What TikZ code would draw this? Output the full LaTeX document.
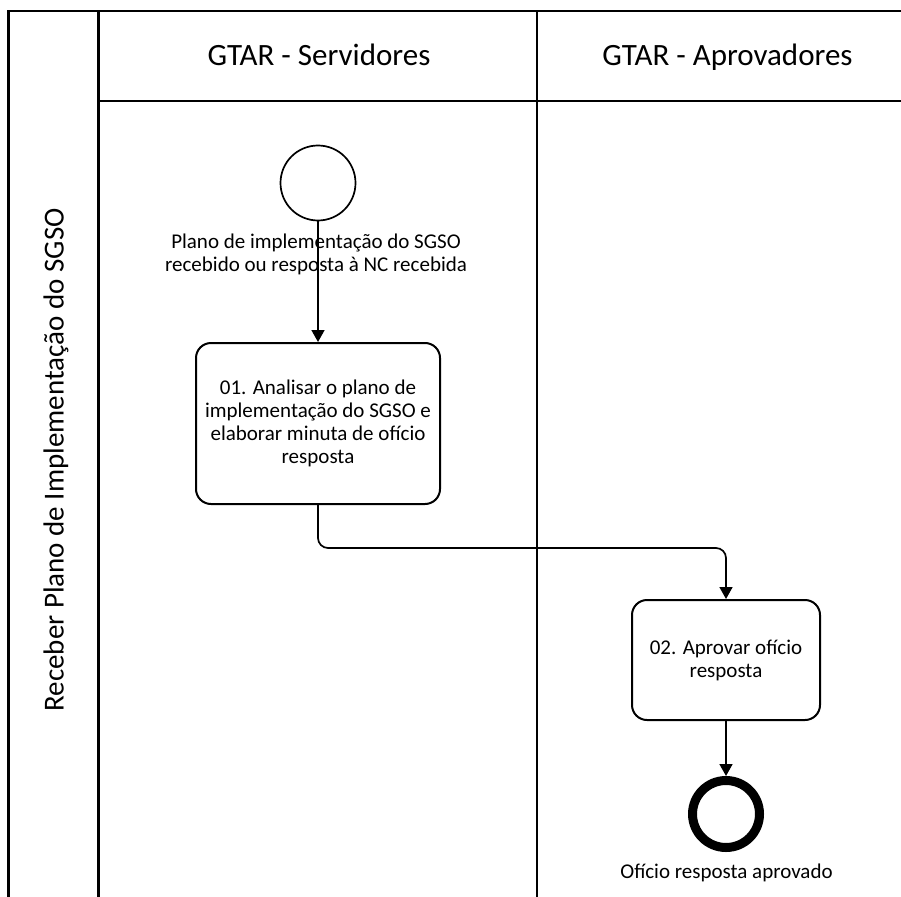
\documentclass[tikz,border=0pt]{standalone}
\usepackage{fontspec}
\setmainfont{Carlito}
\usetikzlibrary{arrows.meta}

% font sizes used in the pool
\newcommand\tkbody{\fontsize{21}{23}\selectfont}
\newcommand\tkhead{\fontsize{31}{37}\selectfont}
\newcommand\tklane{\fontsize{29}{35}\selectfont}

\begin{document}
\begin{tikzpicture}[x=1pt,y=-1pt,
  frame/.style={line width=2.2pt},
  head/.style={font=\tkhead, inner sep=0pt},
  lanetitle/.style={font=\tklane, inner sep=0pt},
  task/.style={draw, line width=2pt, rounded corners=15pt, align=center,
               inner sep=0pt, font=\tkbody},
  startev/.style={draw, circle, line width=1.7pt, inner sep=0pt},
  endev/.style={draw, circle, line width=9pt, inner sep=0pt},
  evlabel/.style={font=\tkbody, align=center, inner sep=0pt},
  flow/.style={line width=1.7pt, -{Triangle[length=12pt,width=13pt]}}]

\useasboundingbox (0,0) rectangle (901,896);

% pool and lanes
\draw[frame] (8.5,11) rectangle (920,905);
\draw[frame] (98.5,11) -- (98.5,905);
\draw[frame] (537,11) -- (537,905);
\draw[frame] (98.5,101) -- (920,101);

% lane headers and pool title
\node[head, anchor=base] (hserv) at (319,66) {GTAR - Servidores};
\node[head, anchor=base] (haprov) at (727.5,66) {GTAR - Aprovadores};
\node[lanetitle, rotate=90] (pool) at (56,460) {Receber Plano de Implementação do SGSO};

% events and tasks
\node[startev, minimum size=75pt] (start) at (318,183) {};
\node[evlabel] (startlbl) at (316,254)
  {Plano de implementação do SGSO\\recebido ou resposta à NC recebida};
\node[task, minimum width=244pt, minimum height=161pt] (t1) at (318,423.5)
  {01. Analisar o plano de\\implementação do SGSO e\\elaborar minuta de ofício\\resposta};
\node[task, minimum width=188pt, minimum height=120pt] (t2) at (726,660)
  {02. Aprovar ofício\\resposta};
\node[endev, minimum size=67pt] (end) at (726,814) {};
\node[evlabel, anchor=base] (endlbl) at (726.5,878) {Ofício resposta aprovado};

% sequence flows
\draw[flow] (start.south) -- (t1.north);
\draw[flow, rounded corners=10pt] (t1.south) -- ++(0,43) -| (t2.north);
\draw[flow] (t2.south) -- (end.north);

\end{tikzpicture}
\end{document}
